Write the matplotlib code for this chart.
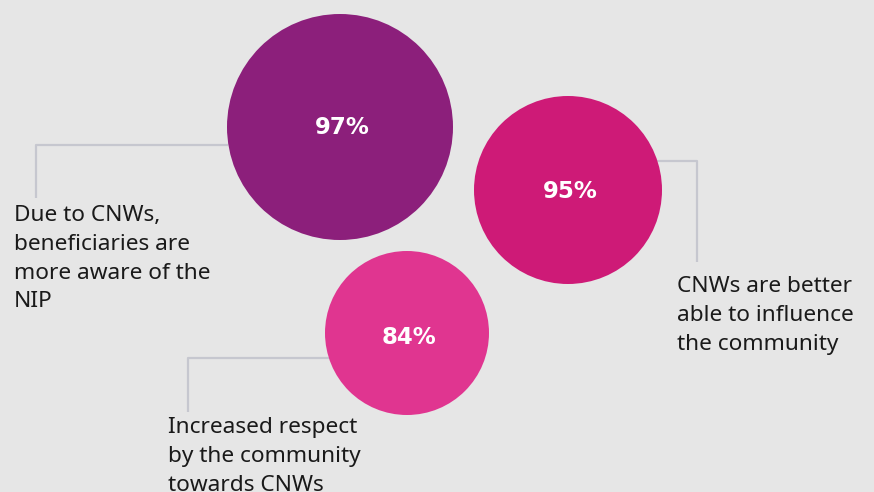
import matplotlib
matplotlib.use("Agg")
import matplotlib.pyplot as plt
from matplotlib.patches import Circle

# Survey results
statements = [
    ["Due to CNWs,", "beneficiaries are", "more aware of the", "NIP"],
    ["CNWs are better", "able to influence", "the community"],
    ["Increased respect", "by the community", "towards CNWs"],
]
shares = [97, 95, 84]

# Layout (pixel space, y downwards)
centers = [(340, 127), (568, 190), (407, 333)]
radii = [113, 94, 82]
colors = ["#8C1F7B", "#CE1A77", "#E03590"]
value_y = [128, 191, 338]
# connector polylines: from circle to label
connectors = [
    [(228, 145), (36, 145), (36, 198)],
    [(655, 161), (697, 161), (697, 262)],
    [(330, 358), (188, 358), (188, 412)],
]
# x and first-line baseline of each label
label_pos = [(14, 221), (677, 292), (168, 433)]
LINE_STEP = 28.8

BG = "#E6E6E6"
W, H = 874, 492
fig = plt.figure(figsize=(W / 100, H / 100), dpi=100, facecolor=BG)
ax = fig.add_axes([0, 0, 1, 1])
ax.set_facecolor(BG)
ax.set_xlim(0, W)
ax.set_ylim(H, 0)
ax.set_aspect("equal")
ax.axis("off")

for pts in connectors:
    xs, ys = zip(*pts)
    ax.plot(xs, ys, color="#C6C7CF", lw=1.6, solid_capstyle="butt", zorder=1)

for (cx, cy), r, c, v, ty in zip(centers, radii, colors, shares, value_y):
    ax.add_patch(Circle((cx, cy), r, facecolor=c, edgecolor="none", zorder=2))
    ax.text(cx + 2, ty, f"{v}%", color="white", fontsize=16.5, fontweight="bold",
            family="DejaVu Sans", ha="center", va="center", zorder=3)

for (x, y0), lines in zip(label_pos, statements):
    for i, line in enumerate(lines):
        ax.text(x, y0 + i * LINE_STEP, line, color="#1A1A1A", fontsize=16.3,
                family="Noto Sans", ha="left", va="baseline", zorder=3)

fig.savefig("out.png", dpi=100, facecolor=BG)
